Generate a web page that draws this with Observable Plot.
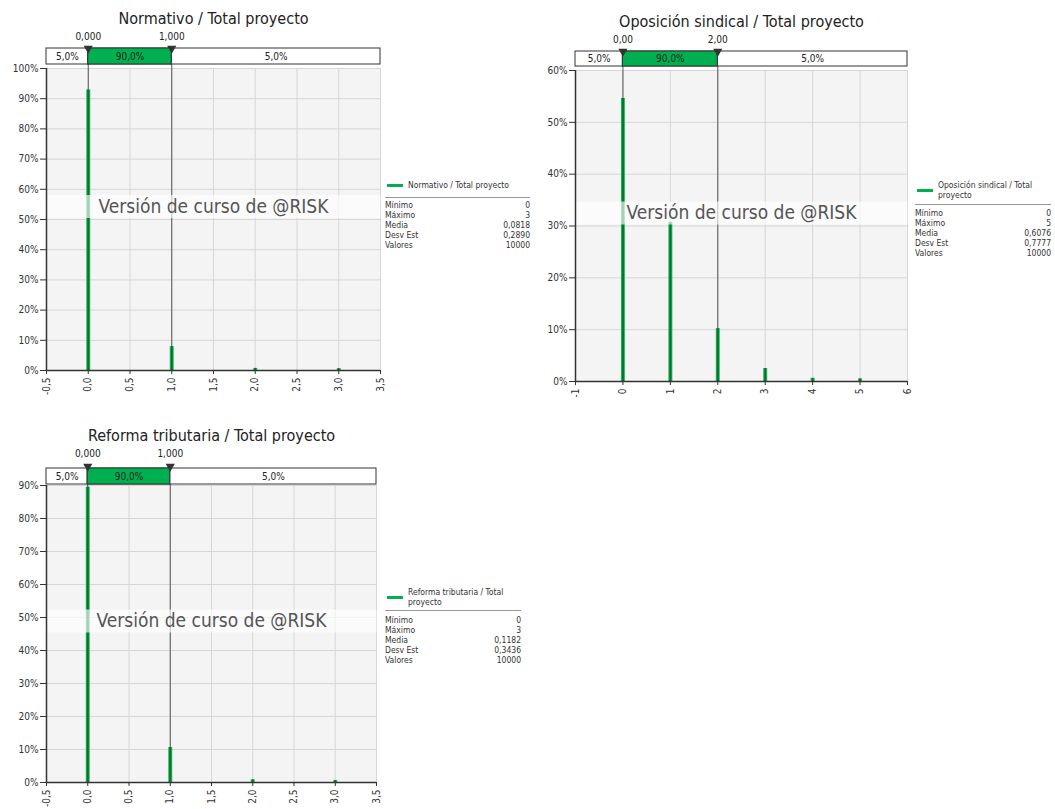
<!DOCTYPE html>
<html><head><meta charset="utf-8">
<script src="https://cdn.jsdelivr.net/npm/d3@7"></script>
<script src="https://cdn.jsdelivr.net/npm/@observablehq/plot@0.6"></script>
<style>
body{margin:0;background:#fff;}
#root{position:relative;width:1055px;height:809px;overflow:hidden;}
.panel{position:absolute;}
.panel svg{overflow:visible;}
</style></head><body><div id="root"></div>
<script>
// ---------- data ----------
const watermark = "Versión de curso de @RISK";
const segLabels = ["5,0%", "90,0%", "5,0%"];
const statNames = ["Mínimo", "Máximo", "Media", "Desv Est", "Valores"];

// Panel 1: Normativo
const normTitle = "Normativo / Total proyecto";
const normLegend = ["Normativo / Total proyecto"];
const normX = [0, 1, 2, 3];
const normP = [0.929, 0.079, 0.007, 0.006];
const normPct = [0, 1];
const normPctLabels = ["0,000", "1,000"];
const normXTicks = [-0.5, 0, 0.5, 1, 1.5, 2, 2.5, 3, 3.5];
const normXLabels = ["-0,5", "0,0", "0,5", "1,0", "1,5", "2,0", "2,5", "3,0", "3,5"];
const normYTicks = [0, 0.1, 0.2, 0.3, 0.4, 0.5, 0.6, 0.7, 0.8, 0.9, 1.0];
const normStats = ["0", "3", "0,0818", "0,2890", "10000"];

// Panel 2: Oposición sindical
const oposTitle = "Oposición sindical / Total proyecto";
const oposLegend = ["Oposición sindical / Total", "proyecto"];
const oposX = [0, 1, 2, 3, 4, 5];
const oposP = [0.546, 0.307, 0.102, 0.025, 0.006, 0.005];
const oposPct = [0, 2];
const oposPctLabels = ["0,00", "2,00"];
const oposXTicks = [-1, 0, 1, 2, 3, 4, 5, 6];
const oposXLabels = ["-1", "0", "1", "2", "3", "4", "5", "6"];
const oposYTicks = [0, 0.1, 0.2, 0.3, 0.4, 0.5, 0.6];
const oposStats = ["0", "5", "0,6076", "0,7777", "10000"];

// Panel 3: Reforma tributaria
const refTitle = "Reforma tributaria / Total proyecto";
const refLegend = ["Reforma tributaria / Total", "proyecto"];
const refX = [0, 1, 2, 3];
const refP = [0.895, 0.106, 0.008, 0.006];
const refPct = [0, 1];
const refPctLabels = ["0,000", "1,000"];
const refXTicks = [-0.5, 0, 0.5, 1, 1.5, 2, 2.5, 3, 3.5];
const refXLabels = ["-0,5", "0,0", "0,5", "1,0", "1,5", "2,0", "2,5", "3,0", "3,5"];
const refYTicks = [0, 0.1, 0.2, 0.3, 0.4, 0.5, 0.6, 0.7, 0.8, 0.9];
const refStats = ["0", "3", "0,1182", "0,3436", "10000"];

// ---------- drawing ----------
const FONT = '"DejaVu Sans Condensed", "Liberation Sans", sans-serif';
const root = document.getElementById("root");

function makePanel(c) {
  const x0 = c.xTicks[0], x1 = c.xTicks[c.xTicks.length - 1];
  const ym = c.yTicks[c.yTicks.length - 1];
  const segs = [
    {a: x0, b: c.pcts[0], label: segLabels[0]},
    {a: c.pcts[0], b: c.pcts[1], label: segLabels[1]},
    {a: c.pcts[1], b: x1, label: segLabels[2]}
  ];
  const bars = c.vals.map((v, i) => ({x: v, p: c.probs[i]}));
  const plotH = c.height - c.mT - c.mB;
  const top = () => ym;
  const svg = Plot.plot({
    width: c.width, height: c.height,
    marginLeft: c.mL, marginRight: c.mR, marginTop: c.mT, marginBottom: c.mB,
    style: {fontFamily: FONT, fontSize: "10px", color: "#333", background: "transparent", overflow: "visible"},
    x: {domain: [x0, x1]},
    y: {domain: [0, ym]},
    marks: [
      Plot.frame({fill: "#f4f4f4", stroke: "none"}),
      Plot.gridX(c.xTicks, {stroke: "#d6d6d6", strokeOpacity: 1}),
      Plot.gridY(c.yTicks, {stroke: "#d6d6d6", strokeOpacity: 1}),
      Plot.ruleX(c.pcts, {stroke: "#555", strokeWidth: 1, insetTop: c.triY - c.mT}),
      Plot.ruleX(bars, {x: "x", y1: 0, y2: "p", stroke: "#2db45c", strokeWidth: 4}),
      Plot.ruleX(bars, {x: "x", y1: 0, y2: "p", stroke: "#00742f", strokeWidth: 2}),
      Plot.frame({fill: "white", fillOpacity: 0.65, stroke: "none", insetTop: plotH / 2 - 24.5, insetBottom: plotH / 2 + 1.5}),
      Plot.text([watermark], {frameAnchor: "middle", dy: -13, fontSize: 19, fill: "#555"}),
      Plot.ruleY([0], {stroke: "#333", strokeWidth: 1.5}),
      Plot.ruleX([x0], {stroke: "#333", strokeWidth: 1.5}),
      Plot.axisX({ticks: c.xTicks, tickFormat: d => c.xLabels[c.xTicks.indexOf(d)], tickRotate: -90, tickSize: 4, tickPadding: 3, fontSize: 10, stroke: "#333", label: null}),
      Plot.axisY({ticks: c.yTicks, tickFormat: d => Math.round(d * 100) + "%", tickSize: 6, tickPadding: 2, fontSize: 10, stroke: "#333", label: null}),
      // header bar
      Plot.rect(segs, {x1: "a", x2: "b", y1: top, y2: top, fill: "white", stroke: "#333", strokeWidth: 1, insetTop: c.barTop - c.mT, insetBottom: c.mT - c.barBot}),
      Plot.rect([segs[1]], {x1: "a", x2: "b", y1: top, y2: top, fill: "#00b050", stroke: "#333", strokeWidth: 1, insetTop: c.barTop - c.mT, insetBottom: c.mT - c.barBot}),
      Plot.text(segs, {x: d => (d.a + d.b) / 2, y: top, dy: (c.barTop + c.barBot) / 2 - c.mT, text: "label", fontSize: 10, fill: "#222"}),
      Plot.dot(c.pcts, {x: d => d, y: top, dy: c.triY - c.mT, symbol: "triangle", rotate: 180, r: 3.4, fill: "#333", stroke: "none"}),
      Plot.text(c.pcts, {x: d => d, y: top, dy: c.pctY - c.mT, text: (d, i) => c.pctLabels[i], fontSize: 10, fill: "#222"}),
      Plot.text([c.title], {frameAnchor: "top", lineAnchor: "middle", dy: c.titleY - c.mT, fontSize: 16, fill: "#222"})
    ]
  });
  const wrap = document.createElement("div");
  wrap.className = "panel";
  wrap.style.left = c.left + "px";
  wrap.style.top = c.top + "px";
  wrap.appendChild(svg);
  root.appendChild(wrap);
}

function el(tag, css, text) {
  const e = document.createElement(tag);
  e.style.cssText = css;
  if (text != null) e.textContent = text;
  return e;
}

function addLegend(L) {
  const box = el("div", `position:absolute;left:${L.x}px;top:0;width:${L.w}px;height:0;font-family:${FONT};font-size:8.5px;color:#333;`);
  box.appendChild(el("div", `position:absolute;left:2px;top:${L.lineY - 1.5}px;width:16px;height:3px;background:#00b050;`));
  L.header.forEach((t, i) => box.appendChild(el("div", `position:absolute;left:23px;top:${L.headY + i * 10.5 - 4.5}px;line-height:9px;white-space:nowrap;`, t)));
  box.appendChild(el("div", `position:absolute;left:0;top:${L.sepY}px;width:${L.w}px;height:0;border-top:1.5px solid #999;`));
  statNames.forEach((n, i) => {
    const y = L.rowY + i * L.step - 4.5;
    box.appendChild(el("div", `position:absolute;left:0;top:${y}px;line-height:9px;white-space:nowrap;`, n));
    box.appendChild(el("div", `position:absolute;right:0;top:${y}px;line-height:9px;text-align:right;white-space:nowrap;`, L.stats[i]));
  });
  root.appendChild(box);
}

makePanel({left: 0, top: 0, width: 385, height: 400, mL: 46, mR: 5, mT: 68, mB: 30,
  barTop: 48, barBot: 64, triY: 48, pctY: 36, titleY: 18,
  vals: normX, probs: normP, pcts: normPct, pctLabels: normPctLabels,
  xTicks: normXTicks, xLabels: normXLabels, yTicks: normYTicks, title: normTitle});

makePanel({left: 530, top: 0, width: 385, height: 411, mL: 45, mR: 8, mT: 70, mB: 30,
  barTop: 51, barBot: 66, triY: 51, pctY: 39, titleY: 21,
  vals: oposX, probs: oposP, pcts: oposPct, pctLabels: oposPctLabels,
  xTicks: oposXTicks, xLabels: oposXLabels, yTicks: oposYTicks, title: oposTitle});

makePanel({left: 0, top: 420, width: 385, height: 392, mL: 46, mR: 9, mT: 65, mB: 30,
  barTop: 48, barBot: 64, triY: 46, pctY: 33, titleY: 15,
  vals: refX, probs: refP, pcts: refPct, pctLabels: refPctLabels,
  xTicks: refXTicks, xLabels: refXLabels, yTicks: refYTicks, title: refTitle});

addLegend({x: 385, w: 145, lineY: 185, headY: 185, header: normLegend, sepY: 197, rowY: 205, step: 10, stats: normStats});
addLegend({x: 915, w: 136, lineY: 190, headY: 185, header: oposLegend, sepY: 204, rowY: 213, step: 10, stats: oposStats});
addLegend({x: 385, w: 136, lineY: 597, headY: 592, header: refLegend, sepY: 610, rowY: 620, step: 10, stats: refStats});
</script></body></html>
